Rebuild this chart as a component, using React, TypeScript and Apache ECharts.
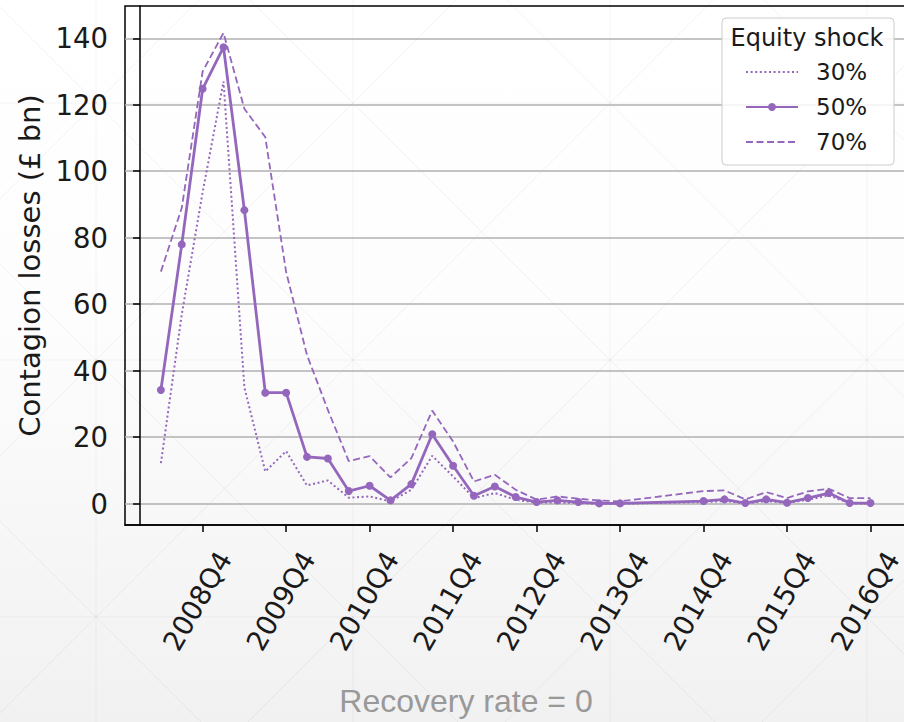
import React, { useEffect, useRef } from "react";
import * as echarts from "echarts";

// ---------- data ----------
const quarters = [
  "2008Q2", "2008Q3", "2008Q4",
  "2009Q1", "2009Q2", "2009Q3", "2009Q4",
  "2010Q1", "2010Q2", "2010Q3", "2010Q4",
  "2011Q1", "2011Q2", "2011Q3", "2011Q4",
  "2012Q1", "2012Q2", "2012Q3", "2012Q4",
  "2013Q1", "2013Q2", "2013Q3", "2013Q4",
  "2014Q4",
  "2015Q1", "2015Q2", "2015Q3", "2015Q4",
  "2016Q1", "2016Q2", "2016Q3", "2016Q4",
];

const shock30 = [
  12.2, 57.0, 93.7,
  127.0, 35.0, 9.7, 15.8,
  5.5, 7.0, 1.8, 2.2,
  0.7, 4.2, 14.4, 8.2,
  1.7, 3.2, 1.2, 0.3,
  0.4, 0.2, 0.0, 0.0,
  0.5,
  0.8, 0.1, 0.8, 0.2,
  1.2, 2.5, 0.1, 0.1,
];

const shock50 = [
  34.2, 78.0, 124.8,
  137.3, 88.3, 33.4, 33.4,
  14.1, 13.6, 3.8, 5.4,
  1.0, 5.9, 20.9, 11.4,
  2.4, 5.2, 2.0, 0.5,
  1.0, 0.5, 0.1, 0.1,
  0.8,
  1.3, 0.2, 1.3, 0.3,
  1.7, 3.2, 0.2, 0.2,
];

const shock70 = [
  69.8, 89.0, 130.0,
  141.6, 118.8, 110.3, 69.7,
  44.7, 28.2, 12.8, 14.3,
  7.9, 13.7, 28.0, 18.7,
  6.7, 8.7, 4.2, 1.2,
  2.2, 1.5, 1.0, 0.7,
  3.8,
  4.0, 1.3, 3.5, 1.7,
  3.7, 4.5, 1.7, 1.7,
];

const seriesNames = ["30%", "50%", "70%"];
const xTickLabels = [
  "2008Q4", "2009Q4", "2010Q4", "2011Q4", "2012Q4",
  "2013Q4", "2014Q4", "2015Q4", "2016Q4",
];
const yTickValues = [0, 20, 40, 60, 80, 100, 120, 140];

const legendTitle = "Equity shock";
const yAxisTitle = "Contagion losses (£ bn)";
const footnote = "Recovery rate = 0";

// ---------- helpers ----------
const BASE_YEAR = 2008;
function qIndex(label: string): number {
  const y = parseInt(label.slice(0, 4), 10);
  const q = parseInt(label.slice(5), 10);
  return (y - BASE_YEAR) * 4 + (q - 1);
}
function qLabel(v: number): string {
  const i = Math.round(v);
  return `${BASE_YEAR + Math.floor(i / 4)}Q${(i % 4) + 1}`;
}

const PURPLE = "#9467bd";
const FONT = "DejaVu Sans";
const TEXT = "#1a1a1a";

function buildPattern() {
  const els: any[] = [];
  const s = 257;
  const ox = 96;
  const oy = 103;
  const col = "rgba(0,0,0,0.045)";
  for (let k = -1; k <= 4; k++) {
    const x = ox + k * s;
    els.push({ type: "line", silent: true, z: -10, shape: { x1: x, y1: 0, x2: x, y2: 722 }, style: { stroke: col, lineWidth: 1 } });
    const y = oy + k * s;
    els.push({ type: "line", silent: true, z: -10, shape: { x1: 0, y1: y, x2: 904, y2: y }, style: { stroke: col, lineWidth: 1 } });
  }
  for (let k = -6; k <= 8; k++) {
    const c1 = ox - oy + k * s;
    els.push({ type: "line", silent: true, z: -10, shape: { x1: c1, y1: 0, x2: c1 + 1000, y2: 1000 }, style: { stroke: col, lineWidth: 1 } });
    const c2 = ox + oy + k * s;
    els.push({ type: "line", silent: true, z: -10, shape: { x1: c2, y1: 0, x2: c2 - 1000, y2: 1000 }, style: { stroke: col, lineWidth: 1 } });
  }
  return els;
}

export default function App() {
  const ref = useRef<HTMLDivElement>(null);

  useEffect(() => {
    if (!ref.current) return;
    const chart = echarts.init(ref.current, undefined, { renderer: "svg" });

    const toPairs = (vals: number[]) => quarters.map((q, i) => [qIndex(q), vals[i]]);
    const xTickValues = xTickLabels.map(qIndex);

    const option: any = {
      animation: false,
      backgroundColor: {
        type: "linear",
        x: 0, y: 0, x2: 0, y2: 1,
        colorStops: [
          { offset: 0, color: "#ffffff" },
          { offset: 0.45, color: "#fdfdfd" },
          { offset: 1, color: "#f1f1f1" },
        ],
      },
      grid: {
        left: 125,
        right: -2,
        top: 6,
        bottom: 197,
        containLabel: false,
        outerBoundsMode: "none",
        show: true,
        borderColor: "#000",
        borderWidth: 1.5,
        backgroundColor: "transparent",
      },
      xAxis: {
        type: "value",
        min: -0.72,
        max: 36.7,
        axisLine: { show: true, onZero: false, lineStyle: { color: "#000", width: 1.5 } },
        axisTick: { show: true, length: 7, customValues: xTickValues, lineStyle: { color: "#000", width: 1.5 } },
        axisLabel: {
          customValues: xTickValues,
          formatter: (v: number) => qLabel(v),
          rotate: 60,
          margin: 16,
          align: "right",
          verticalAlign: "top",
          lineHeight: 50,
          fontFamily: FONT,
          fontSize: 27.5,
          color: TEXT,
        },
        splitLine: { show: false },
      },
      yAxis: {
        type: "value",
        min: -6.4,
        max: 149.7,
        name: yAxisTitle,
        nameLocation: "middle",
        nameGap: 78,
        nameTextStyle: { fontFamily: FONT, fontSize: 29, color: TEXT },
        axisLine: { show: true, lineStyle: { color: "#000", width: 1.5 } },
        axisTick: { show: true, length: 7, customValues: yTickValues, lineStyle: { color: "#000", width: 1.5 } },
        axisLabel: {
          customValues: yTickValues,
          margin: 17,
          fontFamily: FONT,
          fontSize: 27.5,
          color: TEXT,
        },
        splitLine: { show: true, lineStyle: { color: "#b0b0b0", width: 1.5 } },
      },
      legend: {
        orient: "vertical",
        left: 745,
        top: 59,
        padding: 0,
        itemWidth: 52,
        itemHeight: 10,
        itemGap: 9,
        selectedMode: false,
        textStyle: {
          fontFamily: FONT,
          fontSize: 23,
          color: TEXT,
          lineHeight: 26,
          padding: [0, 0, 0, 13],
        },
        data: [
          { name: seriesNames[0], itemStyle: { opacity: 0 } },
          { name: seriesNames[1] },
          { name: seriesNames[2], itemStyle: { opacity: 0 } },
        ],
      },
      graphic: [
        ...buildPattern(),
        {
          type: "rect",
          z: 3,
          silent: true,
          shape: { x: 722, y: 18, width: 172, height: 147, r: 4 },
          style: { fill: "rgba(255,255,255,0.85)", stroke: "#cccccc", lineWidth: 1 },
        },
        {
          type: "text",
          z: 5,
          silent: true,
          x: 807,
          y: 38,
          style: {
            text: legendTitle,
            fontFamily: FONT,
            fontSize: 24,
            fill: TEXT,
            align: "center",
            verticalAlign: "middle",
          },
        },
        {
          type: "text",
          z: 5,
          silent: true,
          x: 466,
          y: 701,
          style: {
            text: footnote,
            fontFamily: "Liberation Sans",
            fontSize: 32,
            fill: "#999999",
            align: "center",
            verticalAlign: "middle",
          },
        },
      ],
      series: [
        {
          name: seriesNames[0],
          type: "line",
          data: toPairs(shock30),
          symbol: "none",
          lineStyle: { color: PURPLE, width: 2, type: [2, 2.6] },
          itemStyle: { color: PURPLE },
          z: 2,
        },
        {
          name: seriesNames[1],
          type: "line",
          data: toPairs(shock50),
          symbol: "circle",
          symbolSize: 8,
          showSymbol: true,
          lineStyle: { color: PURPLE, width: 2.8 },
          itemStyle: { color: PURPLE },
          z: 3,
        },
        {
          name: seriesNames[2],
          type: "line",
          data: toPairs(shock70),
          symbol: "none",
          lineStyle: { color: PURPLE, width: 1.8, type: [7, 3.5] },
          itemStyle: { color: PURPLE },
          z: 2,
        },
      ],
    };

    chart.setOption(option);
    return () => chart.dispose();
  }, []);

  return (
    <div
      ref={ref}
      style={{ position: "fixed", left: 0, top: 0, width: 904, height: 722 }}
    />
  );
}
